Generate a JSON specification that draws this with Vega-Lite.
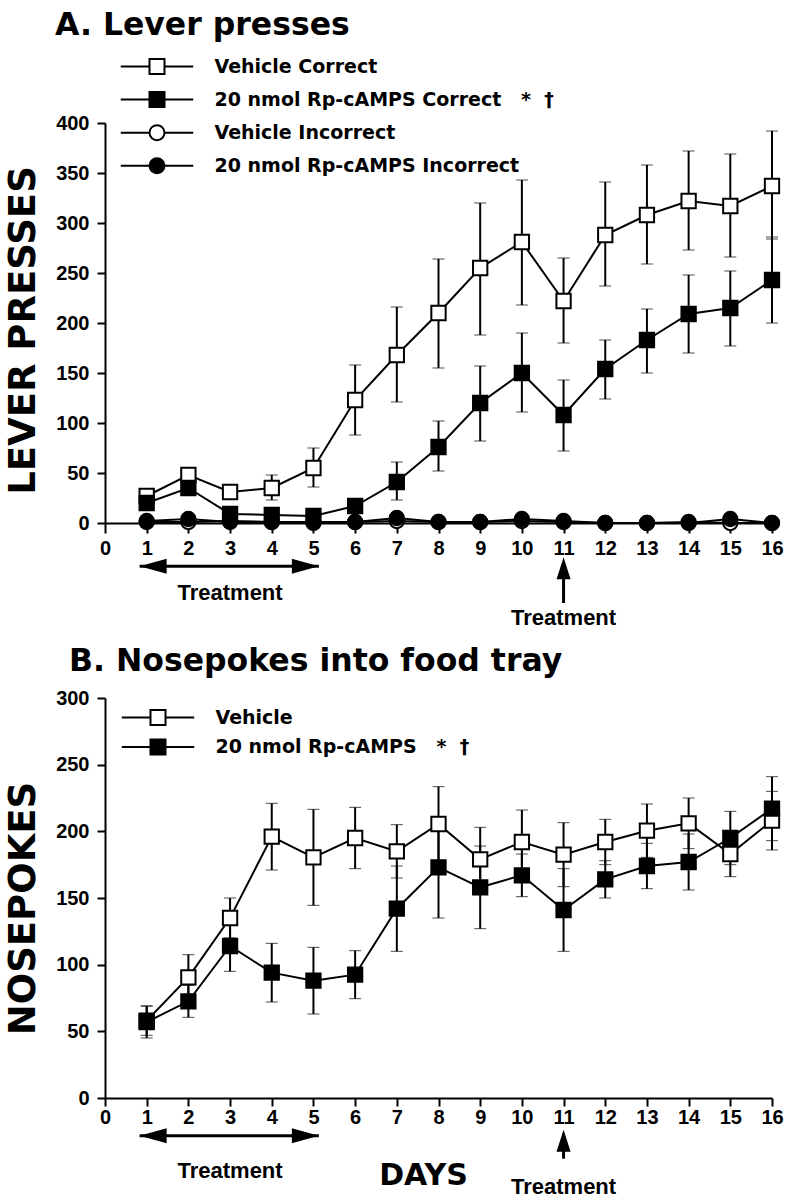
{
  "$schema": "https://vega.github.io/schema/vega-lite/v6.json",
  "background": "white",
  "padding": {"left": 3, "top": 9, "right": 5, "bottom": 5},
  "config": {
    "view": {"stroke": null},
    "axis": {"grid": false, "domainColor": "black", "domainWidth": 2, "tickColor": "black", "tickWidth": 2, "labelColor": "black", "labelFont": "Liberation Sans", "labelFontWeight": "bold", "labelFontSize": 20, "titleColor": "black", "titleFont": "DejaVu Sans", "titleFontWeight": "bold"},
    "title": {"font": "DejaVu Sans", "fontSize": 31.5, "fontWeight": "bold", "color": "black", "anchor": "start", "frame": "group", "baseline": "alphabetic"},
    "legend": {"padding": 0, "offset": 0, "symbolSize": 225, "symbolStrokeWidth": 2, "labelFont": "DejaVu Sans", "labelFontWeight": "bold", "labelFontSize": 19, "labelColor": "black", "labelLimit": 500, "labelOffset": 48}
  },
  "datasets": {
    "lever": [
      {"series": "Vehicle Correct", "day": 1, "mean": 27, "lo": 23, "hi": 31},
      {"series": "Vehicle Correct", "day": 2, "mean": 48, "lo": 44, "hi": 52},
      {"series": "Vehicle Correct", "day": 3, "mean": 31, "lo": 28, "hi": 34},
      {"series": "Vehicle Correct", "day": 4, "mean": 35, "lo": 23, "hi": 48},
      {"series": "Vehicle Correct", "day": 5, "mean": 55, "lo": 36, "hi": 75},
      {"series": "Vehicle Correct", "day": 6, "mean": 123, "lo": 88, "hi": 158},
      {"series": "Vehicle Correct", "day": 7, "mean": 168, "lo": 121, "hi": 216},
      {"series": "Vehicle Correct", "day": 8, "mean": 210, "lo": 155, "hi": 264},
      {"series": "Vehicle Correct", "day": 9, "mean": 255, "lo": 188, "hi": 320},
      {"series": "Vehicle Correct", "day": 10, "mean": 281, "lo": 218, "hi": 343},
      {"series": "Vehicle Correct", "day": 11, "mean": 222, "lo": 180, "hi": 265},
      {"series": "Vehicle Correct", "day": 12, "mean": 288, "lo": 237, "hi": 341},
      {"series": "Vehicle Correct", "day": 13, "mean": 308, "lo": 259, "hi": 358},
      {"series": "Vehicle Correct", "day": 14, "mean": 322, "lo": 273, "hi": 372},
      {"series": "Vehicle Correct", "day": 15, "mean": 317, "lo": 266, "hi": 369},
      {"series": "Vehicle Correct", "day": 16, "mean": 337, "lo": 284, "hi": 392},
      {"series": "20 nmol Rp-cAMPS Correct", "day": 1, "mean": 20, "lo": 16, "hi": 24},
      {"series": "20 nmol Rp-cAMPS Correct", "day": 2, "mean": 35, "lo": 31, "hi": 39},
      {"series": "20 nmol Rp-cAMPS Correct", "day": 3, "mean": 9, "lo": 6, "hi": 12},
      {"series": "20 nmol Rp-cAMPS Correct", "day": 4, "mean": 8, "lo": 4, "hi": 12},
      {"series": "20 nmol Rp-cAMPS Correct", "day": 5, "mean": 7, "lo": 4, "hi": 10},
      {"series": "20 nmol Rp-cAMPS Correct", "day": 6, "mean": 17, "lo": 13, "hi": 21},
      {"series": "20 nmol Rp-cAMPS Correct", "day": 7, "mean": 41, "lo": 23, "hi": 61},
      {"series": "20 nmol Rp-cAMPS Correct", "day": 8, "mean": 76, "lo": 52, "hi": 102},
      {"series": "20 nmol Rp-cAMPS Correct", "day": 9, "mean": 120, "lo": 82, "hi": 157},
      {"series": "20 nmol Rp-cAMPS Correct", "day": 10, "mean": 150, "lo": 111, "hi": 190},
      {"series": "20 nmol Rp-cAMPS Correct", "day": 11, "mean": 108, "lo": 72, "hi": 143},
      {"series": "20 nmol Rp-cAMPS Correct", "day": 12, "mean": 154, "lo": 124, "hi": 183},
      {"series": "20 nmol Rp-cAMPS Correct", "day": 13, "mean": 183, "lo": 150, "hi": 214},
      {"series": "20 nmol Rp-cAMPS Correct", "day": 14, "mean": 209, "lo": 170, "hi": 248},
      {"series": "20 nmol Rp-cAMPS Correct", "day": 15, "mean": 215, "lo": 177, "hi": 252},
      {"series": "20 nmol Rp-cAMPS Correct", "day": 16, "mean": 243, "lo": 200, "hi": 286},
      {"series": "Vehicle Incorrect", "day": 1, "mean": 1},
      {"series": "Vehicle Incorrect", "day": 2, "mean": 1},
      {"series": "Vehicle Incorrect", "day": 3, "mean": 2},
      {"series": "Vehicle Incorrect", "day": 4, "mean": 1},
      {"series": "Vehicle Incorrect", "day": 5, "mean": 1},
      {"series": "Vehicle Incorrect", "day": 6, "mean": 1},
      {"series": "Vehicle Incorrect", "day": 7, "mean": 2},
      {"series": "Vehicle Incorrect", "day": 8, "mean": 1},
      {"series": "Vehicle Incorrect", "day": 9, "mean": 1},
      {"series": "Vehicle Incorrect", "day": 10, "mean": 2},
      {"series": "Vehicle Incorrect", "day": 11, "mean": 1},
      {"series": "Vehicle Incorrect", "day": 12, "mean": 0},
      {"series": "Vehicle Incorrect", "day": 13, "mean": 0},
      {"series": "Vehicle Incorrect", "day": 14, "mean": 1},
      {"series": "Vehicle Incorrect", "day": 15, "mean": 0},
      {"series": "Vehicle Incorrect", "day": 16, "mean": 0},
      {"series": "20 nmol Rp-cAMPS Incorrect", "day": 1, "mean": 2},
      {"series": "20 nmol Rp-cAMPS Incorrect", "day": 2, "mean": 4},
      {"series": "20 nmol Rp-cAMPS Incorrect", "day": 3, "mean": 1},
      {"series": "20 nmol Rp-cAMPS Incorrect", "day": 4, "mean": 1},
      {"series": "20 nmol Rp-cAMPS Incorrect", "day": 5, "mean": 0},
      {"series": "20 nmol Rp-cAMPS Incorrect", "day": 6, "mean": 1},
      {"series": "20 nmol Rp-cAMPS Incorrect", "day": 7, "mean": 5},
      {"series": "20 nmol Rp-cAMPS Incorrect", "day": 8, "mean": 1},
      {"series": "20 nmol Rp-cAMPS Incorrect", "day": 9, "mean": 1},
      {"series": "20 nmol Rp-cAMPS Incorrect", "day": 10, "mean": 4},
      {"series": "20 nmol Rp-cAMPS Incorrect", "day": 11, "mean": 2},
      {"series": "20 nmol Rp-cAMPS Incorrect", "day": 12, "mean": 0},
      {"series": "20 nmol Rp-cAMPS Incorrect", "day": 13, "mean": 0},
      {"series": "20 nmol Rp-cAMPS Incorrect", "day": 14, "mean": 0},
      {"series": "20 nmol Rp-cAMPS Incorrect", "day": 15, "mean": 4},
      {"series": "20 nmol Rp-cAMPS Incorrect", "day": 16, "mean": 0}
    ],
    "nose": [
      {"series": "Vehicle", "day": 1, "mean": 58, "lo": 47, "hi": 69},
      {"series": "Vehicle", "day": 2, "mean": 90.5, "lo": 73.5, "hi": 107.5},
      {"series": "Vehicle", "day": 3, "mean": 135, "lo": 120, "hi": 150},
      {"series": "Vehicle", "day": 4, "mean": 196, "lo": 171, "hi": 221},
      {"series": "Vehicle", "day": 5, "mean": 180.5, "lo": 144.5, "hi": 216.5},
      {"series": "Vehicle", "day": 6, "mean": 195, "lo": 172, "hi": 218},
      {"series": "Vehicle", "day": 7, "mean": 185, "lo": 165, "hi": 205},
      {"series": "Vehicle", "day": 8, "mean": 205.5, "lo": 177.5, "hi": 233.5},
      {"series": "Vehicle", "day": 9, "mean": 179, "lo": 155, "hi": 203},
      {"series": "Vehicle", "day": 10, "mean": 192, "lo": 168, "hi": 216},
      {"series": "Vehicle", "day": 11, "mean": 182.5, "lo": 158.5, "hi": 206.5},
      {"series": "Vehicle", "day": 12, "mean": 192, "lo": 175, "hi": 209},
      {"series": "Vehicle", "day": 13, "mean": 200.5, "lo": 180.5, "hi": 220.5},
      {"series": "Vehicle", "day": 14, "mean": 206, "lo": 187, "hi": 225},
      {"series": "Vehicle", "day": 15, "mean": 183, "lo": 166, "hi": 200},
      {"series": "Vehicle", "day": 16, "mean": 208, "lo": 186, "hi": 230},
      {"series": "20 nmol Rp-cAMPS", "day": 1, "mean": 57, "lo": 45, "hi": 69},
      {"series": "20 nmol Rp-cAMPS", "day": 2, "mean": 72.5, "lo": 60.5, "hi": 84.5},
      {"series": "20 nmol Rp-cAMPS", "day": 3, "mean": 114, "lo": 95, "hi": 133},
      {"series": "20 nmol Rp-cAMPS", "day": 4, "mean": 94, "lo": 72, "hi": 116},
      {"series": "20 nmol Rp-cAMPS", "day": 5, "mean": 88, "lo": 63, "hi": 113},
      {"series": "20 nmol Rp-cAMPS", "day": 6, "mean": 92.5, "lo": 74.5, "hi": 110.5},
      {"series": "20 nmol Rp-cAMPS", "day": 7, "mean": 142, "lo": 110, "hi": 174},
      {"series": "20 nmol Rp-cAMPS", "day": 8, "mean": 173, "lo": 135, "hi": 211},
      {"series": "20 nmol Rp-cAMPS", "day": 9, "mean": 158, "lo": 127, "hi": 189},
      {"series": "20 nmol Rp-cAMPS", "day": 10, "mean": 167, "lo": 151, "hi": 183},
      {"series": "20 nmol Rp-cAMPS", "day": 11, "mean": 141, "lo": 110, "hi": 172},
      {"series": "20 nmol Rp-cAMPS", "day": 12, "mean": 164, "lo": 150, "hi": 178},
      {"series": "20 nmol Rp-cAMPS", "day": 13, "mean": 174, "lo": 157, "hi": 191},
      {"series": "20 nmol Rp-cAMPS", "day": 14, "mean": 177, "lo": 156, "hi": 198},
      {"series": "20 nmol Rp-cAMPS", "day": 15, "mean": 195, "lo": 175, "hi": 215},
      {"series": "20 nmol Rp-cAMPS", "day": 16, "mean": 217, "lo": 193, "hi": 241}
    ],
    "shaftsA": [
      {"x": 0.83, "x2": 5.13, "y": -43.3, "y2": -43.3},
      {"x": 11, "x2": 11, "y": -40, "y2": -80}
    ],
    "headsA": [
      {"x": 0.83, "y": -43.3, "dir": "left"},
      {"x": 5.13, "y": -43.3, "dir": "right"},
      {"x": 11, "y": -34.3, "dir": "up"}
    ],
    "notesA": [
      {"x": 3, "y": -77.3, "text": "Treatment"},
      {"x": 11, "y": -102.3, "text": "Treatment"}
    ],
    "shaftsB": [
      {"x": 0.83, "x2": 5.13, "y": -28.3, "y2": -28.3},
      {"x": 11, "x2": 11, "y": -27, "y2": -45.5}
    ],
    "headsB": [
      {"x": 0.83, "y": -28.3, "dir": "left"},
      {"x": 5.13, "y": -28.3, "dir": "right"},
      {"x": 11, "y": -23.8, "dir": "up"}
    ],
    "notesB": [
      {"x": 3, "y": -59.8, "text": "Treatment"},
      {"x": 11, "y": -71.8, "text": "Treatment"}
    ]
  },
  "vconcat": [
    {
      "width": 667,
      "height": 400,
      "title": {"text": "A. Lever presses", "dx": -50, "offset": 16},
      "resolve": {"scale": {"shape": "independent", "fill": "independent"}, "legend": {"shape": "independent", "fill": "independent"}},
      "layer": [
        {
          "data": {"name": "lever"},
          "transform": [{"filter": "isValid(datum.lo)"}],
          "mark": {"type": "errorbar", "ticks": {"size": 12, "strokeWidth": 2, "color": "black"}, "rule": {"strokeWidth": 2, "color": "black"}},
          "encoding": {
            "x": {"field": "day", "type": "quantitative", "title": null, "scale": {"domain": [0, 16], "nice": false},
                  "axis": {"values": [0,1,2,3,4,5,6,7,8,9,10,11,12,13,14,15,16], "format": "d", "tickSize": 10, "labelPadding": 5, "labelFlush": false, "labelOverlap": false}},
            "y": {"field": "lo", "type": "quantitative", "title": "LEVER PRESSES", "scale": {"domain": [0, 400], "nice": false},
                  "axis": {"values": [0,50,100,150,200,250,300,350,400], "tickSize": 8, "labelPadding": 8, "titleFontSize": 37, "titleX": -71, "titleY": 207, "titleBaseline": "alphabetic", "titleAngle": -90}},
            "y2": {"field": "hi"}
          }
        },
        {
          "data": {"name": "lever"},
          "mark": {"type": "line", "color": "black", "strokeWidth": 2},
          "encoding": {
            "x": {"field": "day", "type": "quantitative", "title": null, "scale": {"domain": [0, 16], "nice": false}},
            "y": {"field": "mean", "type": "quantitative", "title": "LEVER PRESSES", "scale": {"domain": [0, 400], "nice": false}},
            "detail": {"field": "series"}
          }
        },
        {
          "data": {"name": "lever"},
          "mark": {"type": "point", "filled": true, "stroke": "black", "strokeWidth": 2, "opacity": 1, "size": 205},
          "encoding": {
            "x": {"field": "day", "type": "quantitative", "title": null, "scale": {"domain": [0, 16], "nice": false}},
            "y": {"field": "mean", "type": "quantitative", "title": "LEVER PRESSES", "scale": {"domain": [0, 400], "nice": false}},
            "shape": {"field": "series", "type": "nominal", "legend": null,
              "scale": {"domain": ["Vehicle Correct", "20 nmol Rp-cAMPS Correct", "Vehicle Incorrect", "20 nmol Rp-cAMPS Incorrect"], "range": ["square", "square", "circle", "circle"]}},
            "fill": {"field": "series", "type": "nominal", "legend": null,
              "scale": {"domain": ["Vehicle Correct", "20 nmol Rp-cAMPS Correct", "Vehicle Incorrect", "20 nmol Rp-cAMPS Incorrect"], "range": ["white", "black", "white", "black"]}}
          }
        },
        {
          "data": {"name": "lever"},
          "transform": [{"filter": "false"}],
          "mark": {"type": "point", "filled": true, "stroke": "black", "strokeWidth": 2, "opacity": 1, "size": 225},
          "encoding": {
            "x": {"field": "day", "type": "quantitative", "title": null, "scale": {"domain": [0, 16], "nice": false}},
            "y": {"field": "mean", "type": "quantitative", "title": "LEVER PRESSES", "scale": {"domain": [0, 400], "nice": false}},
            "shape": {"field": "series", "type": "nominal",
              "scale": {"domain": ["Vehicle Correct", "20 nmol Rp-cAMPS Correct", "Vehicle Incorrect", "20 nmol Rp-cAMPS Incorrect"],
                        "range": ["M-4.83,0H-1M1,0H4.83M-1,-1H1V1H-1Z", "M-4.83,0H-1M1,0H4.83M-1,-1H1V1H-1Z", "M-4.83,0H-1M1,0H4.83M1,0A1,1,0,1,1,-1,0A1,1,0,1,1,1,0Z", "M-4.83,0H-1M1,0H4.83M1,0A1,1,0,1,1,-1,0A1,1,0,1,1,1,0Z"]},
              "legend": {"orient": "none", "legendX": 42.5, "legendY": -66, "title": null, "rowPadding": 10.1,
                "labelExpr": "datum.label == '20 nmol Rp-cAMPS Correct' ? datum.label + '\u00a0\u00a0\u00a0*\u00a0\u00a0†' : datum.label",
                "encode": {"symbols": {"stroke": {"value": "black"}, "strokeWidth": {"value": 2}}}}},
            "fill": {"field": "series", "type": "nominal",
              "scale": {"domain": ["Vehicle Correct", "20 nmol Rp-cAMPS Correct", "Vehicle Incorrect", "20 nmol Rp-cAMPS Incorrect"], "range": ["white", "black", "white", "black"]},
              "legend": {"orient": "none", "legendX": 42.5, "legendY": -66, "title": null, "rowPadding": 10.1,
                "labelExpr": "datum.label == '20 nmol Rp-cAMPS Correct' ? datum.label + '\u00a0\u00a0\u00a0*\u00a0\u00a0†' : datum.label",
                "encode": {"symbols": {"stroke": {"value": "black"}, "strokeWidth": {"value": 2}}}}}
          }
        },
        {
          "data": {"name": "shaftsA"},
          "mark": {"type": "rule", "color": "black", "strokeWidth": 3},
          "encoding": {
            "x": {"field": "x", "type": "quantitative", "title": null, "scale": {"domain": [0, 16], "nice": false}},
            "x2": {"field": "x2"},
            "y": {"field": "y", "type": "quantitative", "title": "LEVER PRESSES", "scale": {"domain": [0, 400], "nice": false}},
            "y2": {"field": "y2"}
          }
        },
        {
          "data": {"name": "headsA"},
          "transform": [{"filter": "datum.dir == 'left'"}],
          "mark": {"type": "point", "filled": true, "color": "black", "opacity": 1, "size": 729, "shape": "M0,0L2,-0.55L2,0.55Z"},
          "encoding": {
            "x": {"field": "x", "type": "quantitative", "title": null, "scale": {"domain": [0, 16], "nice": false}},
            "y": {"field": "y", "type": "quantitative", "title": "LEVER PRESSES", "scale": {"domain": [0, 400], "nice": false}}
          }
        },
        {
          "data": {"name": "headsA"},
          "transform": [{"filter": "datum.dir == 'right'"}],
          "mark": {"type": "point", "filled": true, "color": "black", "opacity": 1, "size": 729, "shape": "M0,0L-2,-0.55L-2,0.55Z"},
          "encoding": {
            "x": {"field": "x", "type": "quantitative", "title": null, "scale": {"domain": [0, 16], "nice": false}},
            "y": {"field": "y", "type": "quantitative", "title": "LEVER PRESSES", "scale": {"domain": [0, 400], "nice": false}}
          }
        },
        {
          "data": {"name": "headsA"},
          "transform": [{"filter": "datum.dir == 'up'"}],
          "mark": {"type": "point", "filled": true, "color": "black", "opacity": 1, "size": 484, "shape": "M0,0L-0.64,2L0.64,2Z"},
          "encoding": {
            "x": {"field": "x", "type": "quantitative", "title": null, "scale": {"domain": [0, 16], "nice": false}},
            "y": {"field": "y", "type": "quantitative", "title": "LEVER PRESSES", "scale": {"domain": [0, 400], "nice": false}}
          }
        },
        {
          "data": {"name": "notesA"},
          "mark": {"type": "text", "font": "Liberation Sans", "fontWeight": "bold", "fontSize": 22, "color": "black", "align": "center", "baseline": "alphabetic"},
          "encoding": {
            "x": {"field": "x", "type": "quantitative", "title": null, "scale": {"domain": [0, 16], "nice": false}},
            "y": {"field": "y", "type": "quantitative", "title": "LEVER PRESSES", "scale": {"domain": [0, 400], "nice": false}},
            "text": {"field": "text"}
          }
        }
      ]
    },
    {
      "width": 667,
      "height": 400,
      "title": {"text": "B. Nosepokes into food tray", "dx": -36, "offset": 11},
      "resolve": {"scale": {"shape": "independent", "fill": "independent"}, "legend": {"shape": "independent", "fill": "independent"}},
      "layer": [
        {
          "data": {"name": "nose"},
          "mark": {"type": "errorbar", "ticks": {"size": 12, "strokeWidth": 2, "color": "black"}, "rule": {"strokeWidth": 2, "color": "black"}},
          "encoding": {
            "x": {"field": "day", "type": "quantitative", "title": "DAYS", "scale": {"domain": [0, 16], "nice": false},
                  "axis": {"values": [0,1,2,3,4,5,6,7,8,9,10,11,12,13,14,15,16], "format": "d", "tickSize": 8, "labelPadding": 1, "labelFlush": false, "labelOverlap": false, "titleFontSize": 30, "titleX": 318, "titleY": 86, "titleBaseline": "alphabetic", "titleAlign": "center"}},
            "y": {"field": "lo", "type": "quantitative", "title": "NOSEPOKES", "scale": {"domain": [0, 300], "nice": false},
                  "axis": {"values": [0,50,100,150,200,250,300], "tickSize": 8, "labelPadding": 8, "titleFontSize": 37, "titleX": -71, "titleY": 210, "titleBaseline": "alphabetic", "titleAngle": -90}},
            "y2": {"field": "hi"}
          }
        },
        {
          "data": {"name": "nose"},
          "mark": {"type": "line", "color": "black", "strokeWidth": 2},
          "encoding": {
            "x": {"field": "day", "type": "quantitative", "title": "DAYS", "scale": {"domain": [0, 16], "nice": false}},
            "y": {"field": "mean", "type": "quantitative", "title": "NOSEPOKES", "scale": {"domain": [0, 300], "nice": false}},
            "detail": {"field": "series"}
          }
        },
        {
          "data": {"name": "nose"},
          "mark": {"type": "point", "filled": true, "stroke": "black", "strokeWidth": 2, "opacity": 1, "size": 205, "shape": "square"},
          "encoding": {
            "x": {"field": "day", "type": "quantitative", "title": "DAYS", "scale": {"domain": [0, 16], "nice": false}},
            "y": {"field": "mean", "type": "quantitative", "title": "NOSEPOKES", "scale": {"domain": [0, 300], "nice": false}},
            "fill": {"field": "series", "type": "nominal", "legend": null,
              "scale": {"domain": ["Vehicle", "20 nmol Rp-cAMPS"], "range": ["white", "black"]}}
          }
        },
        {
          "data": {"name": "nose"},
          "transform": [{"filter": "false"}],
          "mark": {"type": "point", "filled": true, "stroke": "black", "strokeWidth": 2, "opacity": 1, "size": 225},
          "encoding": {
            "x": {"field": "day", "type": "quantitative", "title": "DAYS", "scale": {"domain": [0, 16], "nice": false}},
            "y": {"field": "mean", "type": "quantitative", "title": "NOSEPOKES", "scale": {"domain": [0, 300], "nice": false}},
            "shape": {"field": "series", "type": "nominal",
              "scale": {"domain": ["Vehicle", "20 nmol Rp-cAMPS"], "range": ["M-4.83,0H-1M1,0H4.83M-1,-1H1V1H-1Z", "M-4.83,0H-1M1,0H4.83M-1,-1H1V1H-1Z"]},
              "legend": {"orient": "none", "legendX": 43.5, "legendY": 10, "title": null, "rowPadding": 6.4,
                "labelExpr": "datum.label == '20 nmol Rp-cAMPS' ? datum.label + '\u00a0\u00a0\u00a0*\u00a0\u00a0†' : datum.label",
                "encode": {"symbols": {"stroke": {"value": "black"}, "strokeWidth": {"value": 2}}}}},
            "fill": {"field": "series", "type": "nominal",
              "scale": {"domain": ["Vehicle", "20 nmol Rp-cAMPS"], "range": ["white", "black"]},
              "legend": {"orient": "none", "legendX": 43.5, "legendY": 10, "title": null, "rowPadding": 6.4,
                "labelExpr": "datum.label == '20 nmol Rp-cAMPS' ? datum.label + '\u00a0\u00a0\u00a0*\u00a0\u00a0†' : datum.label",
                "encode": {"symbols": {"stroke": {"value": "black"}, "strokeWidth": {"value": 2}}}}}
          }
        },
        {
          "data": {"name": "shaftsB"},
          "mark": {"type": "rule", "color": "black", "strokeWidth": 3},
          "encoding": {
            "x": {"field": "x", "type": "quantitative", "title": "DAYS", "scale": {"domain": [0, 16], "nice": false}},
            "x2": {"field": "x2"},
            "y": {"field": "y", "type": "quantitative", "title": "NOSEPOKES", "scale": {"domain": [0, 300], "nice": false}},
            "y2": {"field": "y2"}
          }
        },
        {
          "data": {"name": "headsB"},
          "transform": [{"filter": "datum.dir == 'left'"}],
          "mark": {"type": "point", "filled": true, "color": "black", "opacity": 1, "size": 729, "shape": "M0,0L2,-0.55L2,0.55Z"},
          "encoding": {
            "x": {"field": "x", "type": "quantitative", "title": "DAYS", "scale": {"domain": [0, 16], "nice": false}},
            "y": {"field": "y", "type": "quantitative", "title": "NOSEPOKES", "scale": {"domain": [0, 300], "nice": false}}
          }
        },
        {
          "data": {"name": "headsB"},
          "transform": [{"filter": "datum.dir == 'right'"}],
          "mark": {"type": "point", "filled": true, "color": "black", "opacity": 1, "size": 729, "shape": "M0,0L-2,-0.55L-2,0.55Z"},
          "encoding": {
            "x": {"field": "x", "type": "quantitative", "title": "DAYS", "scale": {"domain": [0, 16], "nice": false}},
            "y": {"field": "y", "type": "quantitative", "title": "NOSEPOKES", "scale": {"domain": [0, 300], "nice": false}}
          }
        },
        {
          "data": {"name": "headsB"},
          "transform": [{"filter": "datum.dir == 'up'"}],
          "mark": {"type": "point", "filled": true, "color": "black", "opacity": 1, "size": 484, "shape": "M0,0L-0.64,2L0.64,2Z"},
          "encoding": {
            "x": {"field": "x", "type": "quantitative", "title": "DAYS", "scale": {"domain": [0, 16], "nice": false}},
            "y": {"field": "y", "type": "quantitative", "title": "NOSEPOKES", "scale": {"domain": [0, 300], "nice": false}}
          }
        },
        {
          "data": {"name": "notesB"},
          "mark": {"type": "text", "font": "Liberation Sans", "fontWeight": "bold", "fontSize": 22, "color": "black", "align": "center", "baseline": "alphabetic"},
          "encoding": {
            "x": {"field": "x", "type": "quantitative", "title": "DAYS", "scale": {"domain": [0, 16], "nice": false}},
            "y": {"field": "y", "type": "quantitative", "title": "NOSEPOKES", "scale": {"domain": [0, 300], "nice": false}},
            "text": {"field": "text"}
          }
        }
      ]
    }
  ],
  "spacing": 175,
  "bounds": "flush",
  "resolve": {"scale": {"x": "independent", "y": "independent", "shape": "independent", "fill": "independent"}, "legend": {"shape": "independent", "fill": "independent"}}
}
